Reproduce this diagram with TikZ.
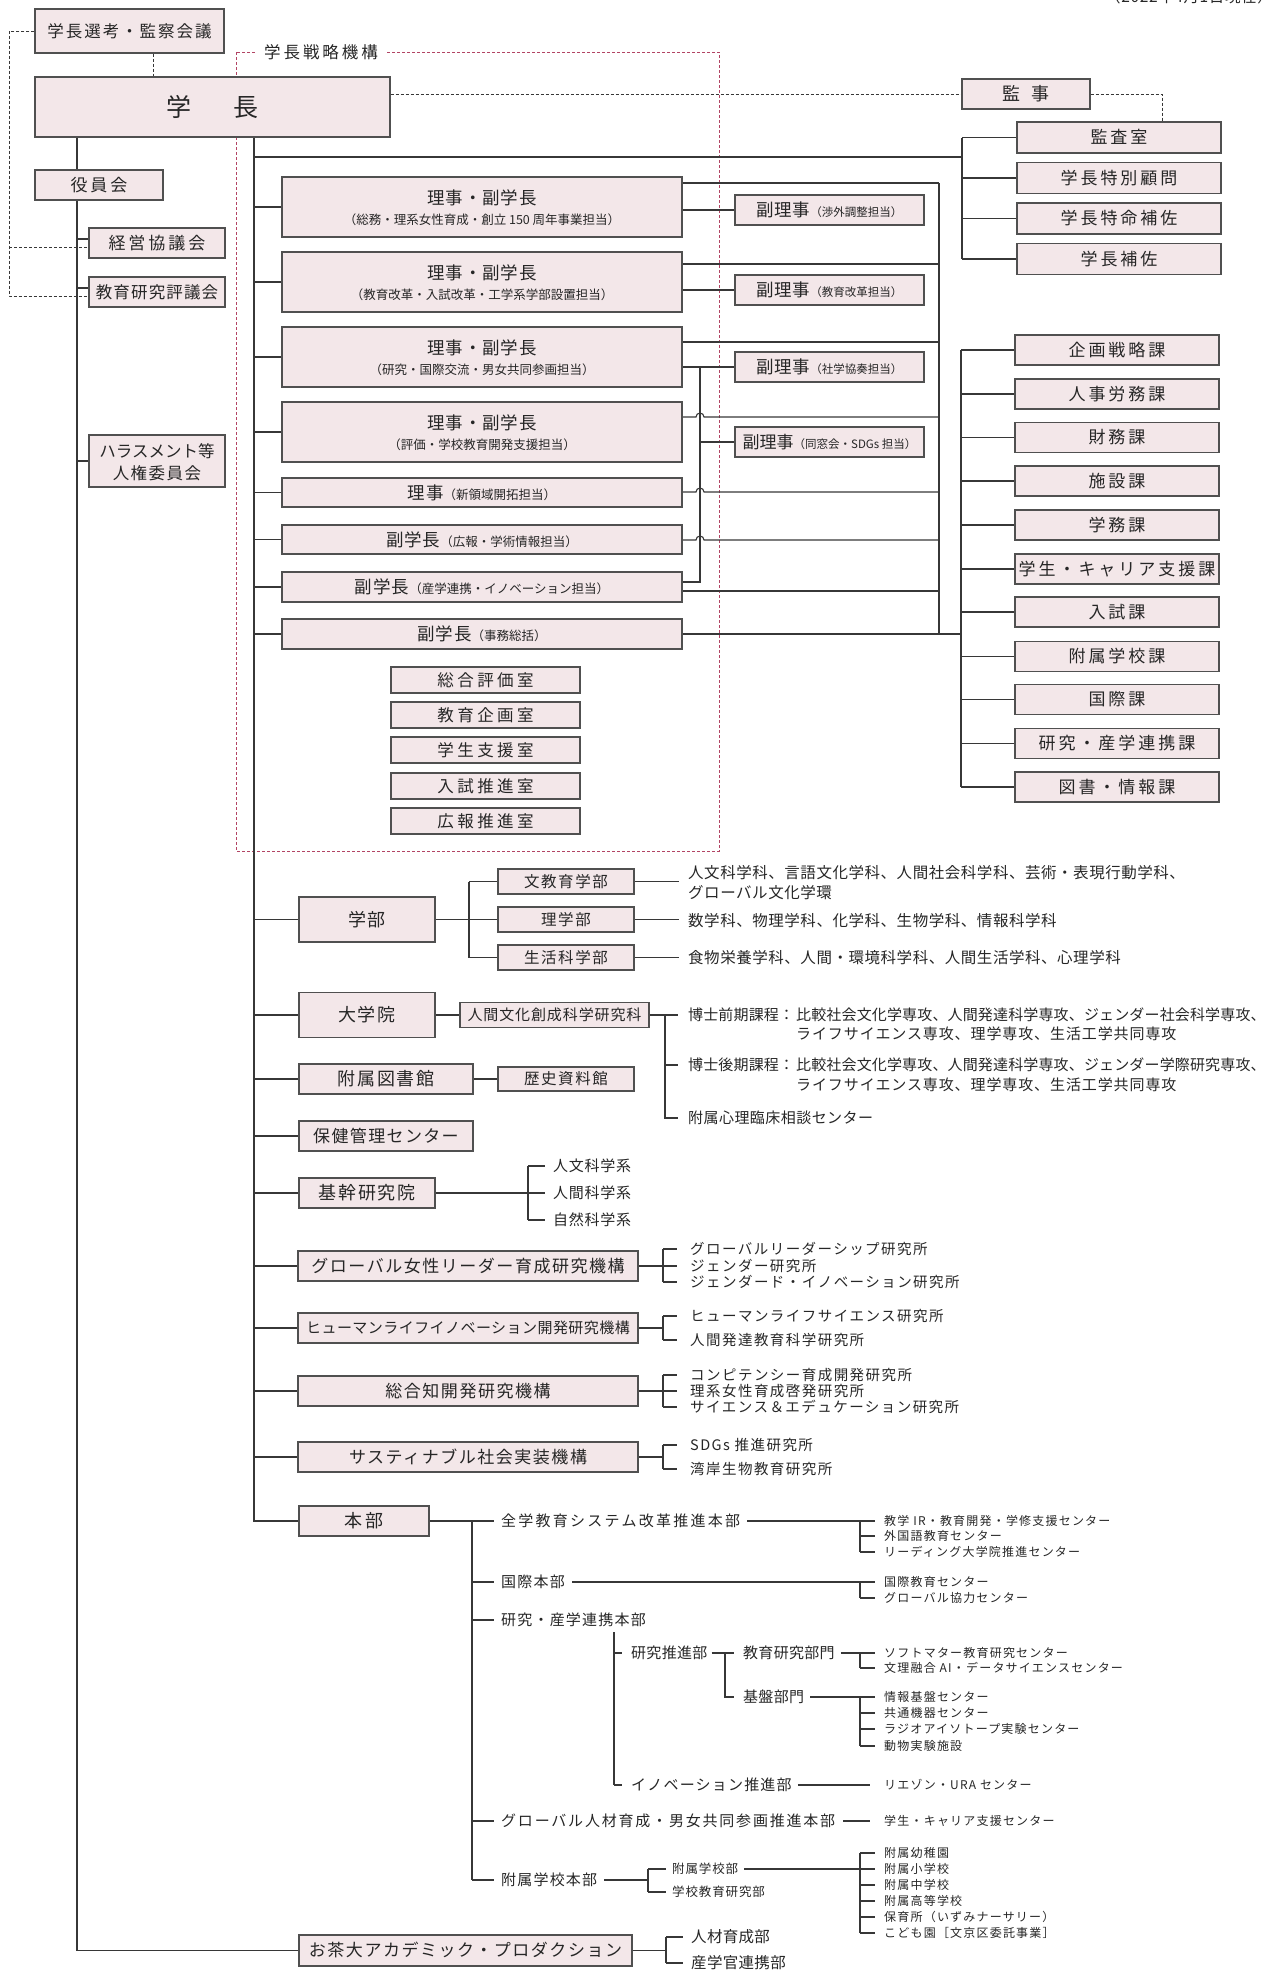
\documentclass[tikz,border=0pt]{standalone}
\usepackage{fontspec}
\setmainfont{Noto Sans CJK JP}
\usetikzlibrary{calc}
\pgfdeclarelayer{bg}
\pgfsetlayers{bg,main}
\definecolor{boxf}{RGB}{243,231,233}
\definecolor{boxd}{RGB}{80,80,80}
\definecolor{lnc}{RGB}{55,55,55}
\definecolor{txc}{RGB}{38,38,38}
\definecolor{redd}{RGB}{178,68,100}
\newcommand\jf[3]{\fontsize{#1pt}{#2pt}\selectfont\addfontfeature{LetterSpace=#3}}
\newcommand\sv{\rule[-.12em]{0pt}{1em}}
\begin{document}
\begin{tikzpicture}[x=1pt,y=-1pt,
  box/.style={draw=boxd,fill=boxf,line width=1.3pt,inner sep=0pt,text=txc,execute at begin node=\sv},
  bx/.style 2 args={box,minimum width=#1,minimum height=#2},
  tx/.style={inner sep=0pt,anchor=west,text=txc,execute at begin node=\sv},
  tc/.style={tx,anchor=center},
  ln/.style={draw=lnc,line width=1.1pt},
  dsh/.style={draw=lnc,line width=1pt,dash pattern=on 3pt off 2pt},
  rdsh/.style={draw=redd,line width=1pt,dash pattern=on 3pt off 2pt}]
\useasboundingbox (0,0) rectangle (1277,1973);
\node[tx,font=\jf{15.5}{18}{4}] (date) at (1105,-3) {（2022年4月1日現在）};

\coordinate (sfTL) at (236,52);
\coordinate (sfBR) at (719,851);
\node[tc,fill=white,inner xsep=9pt,font=\jf{16.5}{20}{18}] (sflab) at (321,52) {学長戦略機構};

% ---- top boxes
\node[bx={189pt}{44pt},font=\jf{16.5}{20}{12}] (senko) at (129.5,31) {学長選考・監察会議};
\node[bx={355pt}{60pt},font=\jf{25}{30}{0}] (gakucho) at (212.5,107) {学\hspace{42pt}長};
\node[bx={128pt}{30pt},font=\jf{18}{22}{0}] (kanji) at (1026,94) {監\hspace{11pt}事};
\node[bx={204pt}{31pt},font=\jf{17}{20}{17.6}] (ks1) at (1119,137.5) {監査室};
\node[bx={204pt}{31pt},font=\jf{17}{20}{17.6}] (ks2) at (1119,178) {学長特別顧問};
\node[bx={204pt}{31pt},font=\jf{17}{20}{17.6}] (ks3) at (1119,218.5) {学長特命補佐};
\node[bx={204pt}{31pt},font=\jf{17}{20}{17.6}] (ks4) at (1119,259) {学長補佐};
\node[bx={128pt}{30pt},font=\jf{17}{20}{17.6}] (yakuin) at (99,185) {役員会};
\node[bx={136pt}{30pt},font=\jf{17}{20}{17.6}] (keiei) at (157,243) {経営協議会};
\node[bx={136pt}{30pt},font=\jf{16.5}{20}{7}] (kyoken) at (157,292) {教育研究評議会};
\node[bx={136pt}{52pt}] (harass) at (157,461) {};
\node[tc,font=\jf{16.5}{20}{0}] (harass1) at (157,451) {ハラスメント等};
\node[tc,font=\jf{16.5}{20}{9}] (harass2) at (157,473) {人権委員会};

% ---- riji boxes
\node[bx={400pt}{60pt}] (b1) at (482,207) {};
\node[tc,font=\jf{17.5}{20}{5.5}] (b1t) at (482,198) {理事・副学長};
\node[tc,font=\jf{12.5}{15}{0}] (b1s) at (482,220) {（総務・理系女性育成・創立 150 周年事業担当）};
\node[bx={400pt}{60pt}] (b2) at (482,282) {};
\node[tc,font=\jf{17.5}{20}{5.5}] (b2t) at (482,273) {理事・副学長};
\node[tc,font=\jf{12.5}{15}{0}] (b2s) at (482,295) {（教育改革・入試改革・工学系学部設置担当）};
\node[bx={400pt}{60pt}] (b3) at (482,357) {};
\node[tc,font=\jf{17.5}{20}{5.5}] (b3t) at (482,348) {理事・副学長};
\node[tc,font=\jf{12.5}{15}{0}] (b3s) at (482,370) {（研究・国際交流・男女共同参画担当）};
\node[bx={400pt}{60pt}] (b4) at (482,432) {};
\node[tc,font=\jf{17.5}{20}{5.5}] (b4t) at (482,423) {理事・副学長};
\node[tc,font=\jf{12.5}{15}{0}] (b4s) at (482,445) {（評価・学校教育開発支援担当）};
\node[bx={400pt}{29pt},font=\jf{17.5}{20}{5.5}] (b5) at (482,492.5) {理事{\jf{12.5}{15}{0}（新領域開拓担当）}};
\node[bx={400pt}{29pt},font=\jf{17.5}{20}{5.5}] (b6) at (482,539.5) {副学長{\jf{12.5}{15}{0}（広報・学術情報担当）}};
\node[bx={400pt}{30pt},font=\jf{17.5}{20}{5.5}] (b7) at (482,587) {副学長{\jf{12.5}{15}{0}（産学連携・イノベーション担当）}};
\node[bx={400pt}{30pt},font=\jf{17.5}{20}{5.5}] (b8) at (482,634) {副学長{\jf{12.5}{15}{0}（事務総括）}};

% ---- fukuriji
\node[bx={189pt}{30pt},font=\jf{17.5}{20}{3}] (f1) at (829.5,210) {副理事{\jf{11.5}{14}{0}（渉外調整担当）}};
\node[bx={189pt}{30pt},font=\jf{17.5}{20}{3}] (f2) at (829.5,290) {副理事{\jf{11.5}{14}{0}（教育改革担当）}};
\node[bx={189pt}{30pt},font=\jf{17.5}{20}{3}] (f3) at (829.5,367) {副理事{\jf{11.5}{14}{0}（社学協奏担当）}};
\node[bx={189pt}{30pt},font=\jf{17}{20}{0}] (f4) at (829.5,442) {副理事{\jf{11.5}{14}{0}（同窓会・SDGs 担当）}};

% ---- ka
\node[bx={204pt}{30pt},font=\jf{17}{20}{17.6}] (ka1) at (1117,350) {企画戦略課};
\node[bx={204pt}{30pt},font=\jf{17}{20}{17.6}] (ka2) at (1117,394) {人事労務課};
\node[bx={204pt}{30pt},font=\jf{17}{20}{17.6}] (ka3) at (1117,437.5) {財務課};
\node[bx={204pt}{30pt},font=\jf{17}{20}{17.6}] (ka4) at (1117,481) {施設課};
\node[bx={204pt}{30pt},font=\jf{17}{20}{17.6}] (ka5) at (1117,525) {学務課};
\node[bx={204pt}{30pt},font=\jf{17}{20}{17.6}] (ka6) at (1117,569) {学生・キャリア支援課};
\node[bx={204pt}{30pt},font=\jf{17}{20}{17.6}] (ka7) at (1117,612) {入試課};
\node[bx={204pt}{30pt},font=\jf{17}{20}{17.6}] (ka8) at (1117,656.5) {附属学校課};
\node[bx={204pt}{30pt},font=\jf{17}{20}{17.6}] (ka9) at (1117,699.5) {国際課};
\node[bx={204pt}{30pt},font=\jf{17}{20}{17.6}] (ka10) at (1117,743.5) {研究・産学連携課};
\node[bx={204pt}{30pt},font=\jf{17}{20}{17.6}] (ka11) at (1117,787) {図書・情報課};

% ---- rooms
\node[bx={189pt}{26pt},font=\jf{16.5}{20}{21}] (rm1) at (485.5,680) {総合評価室};
\node[bx={189pt}{26pt},font=\jf{16.5}{20}{21}] (rm2) at (485.5,715) {教育企画室};
\node[bx={189pt}{26pt},font=\jf{16.5}{20}{21}] (rm3) at (485.5,750) {学生支援室};
\node[bx={189pt}{26pt},font=\jf{16.5}{20}{21}] (rm4) at (485.5,786) {入試推進室};
\node[bx={189pt}{26pt},font=\jf{16.5}{20}{21}] (rm5) at (485.5,821) {広報推進室};

% ---- lower boxes
\node[bx={136pt}{45pt},font=\jf{18}{22}{11}] (gakubu) at (367,919.5) {学部};
\node[bx={136pt}{25pt},font=\jf{15.5}{19}{10}] (fac1) at (566,881.5) {文教育学部};
\node[bx={136pt}{25pt},font=\jf{15.5}{19}{10}] (fac2) at (566,919.5) {理学部};
\node[bx={136pt}{25pt},font=\jf{15.5}{19}{10}] (fac3) at (566,957.5) {生活科学部};
\node[bx={136pt}{45pt},font=\jf{18}{22}{9}] (daigakuin) at (367,1015) {大学院};
\node[bx={189pt}{25pt},font=\jf{15}{19}{6}] (kenkyuka) at (554.5,1015) {人間文化創成科学研究科};
\node[bx={174pt}{30pt},font=\jf{18}{22}{9}] (tosho) at (386,1079) {附属図書館};
\node[bx={136pt}{24pt},font=\jf{15.5}{19}{10}] (rekishi) at (566,1079) {歴史資料館};
\node[bx={174pt}{30pt},font=\jf{17}{20}{8}] (hoken) at (386,1136) {保健管理センター};
\node[bx={136pt}{30pt},font=\jf{18}{22}{9}] (kikan) at (367,1193) {基幹研究院};
\node[bx={340pt}{30pt},font=\jf{17}{20}{9}] (gw) at (468,1266) {グローバル女性リーダー育成研究機構};
\node[bx={340pt}{30pt},font=\jf{15}{18}{3}] (hl) at (468,1328) {ヒューマンライフイノベーション開発研究機構};
\node[bx={340pt}{30pt},font=\jf{17}{20}{9}] (sg) at (468,1391) {総合知開発研究機構};
\node[bx={340pt}{30pt},font=\jf{17}{20}{9}] (st) at (468,1457) {サスティナブル社会実装機構};
\node[bx={130pt}{30pt},font=\jf{18}{22}{12}] (honbu) at (364,1521) {本部};
\node[bx={333pt}{31pt},font=\jf{17}{20}{9}] (ocha) at (465.5,1950.5) {お茶大アカデミック・プロダクション};

% ---- texts: faculties
\node[tx,font=\jf{15.5}{19}{3.5}] (ft1a) at (688,873) {人文科学科、言語文化学科、人間社会科学科、芸術・表現行動学科、};
\node[tx,font=\jf{15.5}{19}{3.5}] (ft1b) at (688,893) {グローバル文化学環};
\node[tx,font=\jf{15.5}{19}{3.5}] (ft2) at (688,920.5) {数学科、物理学科、化学科、生物学科、情報科学科};
\node[tx,font=\jf{15.5}{19}{3.5}] (ft3) at (688,958) {食物栄養学科、人間・環境科学科、人間生活学科、心理学科};
\node[tx,font=\jf{15}{18}{1}] (dt1) at (688,1015) {博士前期課程：};
\node[tx,font=\jf{15}{18}{1}] (dt1a) at (796,1015) {比較社会文化学専攻、人間発達科学専攻、ジェンダー社会科学専攻、};
\node[tx,font=\jf{15}{18}{6}] (dt1b) at (796,1034) {ライフサイエンス専攻、理学専攻、生活工学共同専攻};
\node[tx,font=\jf{15}{18}{1}] (dt2) at (688,1065) {博士後期課程：};
\node[tx,font=\jf{15}{18}{1}] (dt2a) at (796,1065) {比較社会文化学専攻、人間発達科学専攻、ジェンダー学際研究専攻、};
\node[tx,font=\jf{15}{18}{6}] (dt2b) at (796,1085) {ライフサイエンス専攻、理学専攻、生活工学共同専攻};
\node[tx,font=\jf{15}{18}{3}] (dt3) at (688,1118) {附属心理臨床相談センター};
\node[tx,font=\jf{15}{18}{5}] (kt1) at (553,1166) {人文科学系};
\node[tx,font=\jf{15}{18}{5}] (kt2) at (553,1193) {人間科学系};
\node[tx,font=\jf{15}{18}{5}] (kt3) at (553,1220) {自然科学系};
% institutes
\node[tx,font=\jf{14.5}{16}{10}] (gi1) at (690,1249) {グローバルリーダーシップ研究所};
\node[tx,font=\jf{14.5}{16}{10}] (gi2) at (690,1266) {ジェンダー研究所};
\node[tx,font=\jf{14.5}{16}{10}] (gi3) at (690,1282) {ジェンダード・イノベーション研究所};
\node[tx,font=\jf{14.5}{16}{10}] (li1) at (690,1316) {ヒューマンライフサイエンス研究所};
\node[tx,font=\jf{14.5}{16}{10}] (li2) at (690,1340) {人間発達教育科学研究所};
\node[tx,font=\jf{14.5}{16}{10}] (si1) at (690,1375) {コンピテンシー育成開発研究所};
\node[tx,font=\jf{14.5}{16}{10}] (si2) at (690,1391) {理系女性育成啓発研究所};
\node[tx,font=\jf{14.5}{16}{10}] (si3) at (690,1407) {サイエンス＆エデュケーション研究所};
\node[tx,font=\jf{14.5}{16}{10}] (ti1) at (690,1445) {SDGs 推進研究所};
\node[tx,font=\jf{14.5}{16}{10}] (ti2) at (690,1469) {湾岸生物教育研究所};
% honbu
\node[tx,font=\jf{15}{18}{15}] (zt) at (501,1521) {全学教育システム改革推進本部};
\node[tx,font=\jf{15}{18}{8}] (kt) at (501,1582) {国際本部};
\node[tx,font=\jf{15}{18}{8}] (kr) at (501,1620) {研究・産学連携本部};
\node[tx,font=\jf{15}{18}{12}] (gj) at (501,1821) {グローバル人材育成・男女共同参画推進本部};
\node[tx,font=\jf{15}{18}{8}] (fz) at (501,1880) {附属学校本部};
\node[tx,font=\jf{15}{18}{2}] (suishin) at (631,1653) {研究推進部};
\node[tx,font=\jf{15}{18}{2}] (kyb) at (743,1653) {教育研究部門};
\node[tx,font=\jf{15}{18}{2}] (kib) at (743,1697) {基盤部門};
\node[tx,font=\jf{15}{18}{8}] (inov) at (631,1785) {イノベーション推進部};
\node[tx,font=\jf{12.5}{15}{7}] (fb1) at (672,1869) {附属学校部};
\node[tx,font=\jf{12.5}{15}{7}] (fb2) at (672,1892) {学校教育研究部};
\node[tx,font=\jf{12}{14}{10}] (zc1) at (884,1521) {教学 IR・教育開発・学修支援センター};
\node[tx,font=\jf{12}{14}{10}] (zc2) at (884,1536) {外国語教育センター};
\node[tx,font=\jf{12}{14}{10}] (zc3) at (884,1552) {リーディング大学院推進センター};
\node[tx,font=\jf{12}{14}{10}] (kc1) at (884,1582) {国際教育センター};
\node[tx,font=\jf{12}{14}{10}] (kc2) at (884,1598) {グローバル協力センター};
\node[tx,font=\jf{12}{14}{10}] (yc1) at (884,1653) {ソフトマター教育研究センター};
\node[tx,font=\jf{12}{14}{10}] (yc2) at (884,1668) {文理融合 AI・データサイエンスセンター};
\node[tx,font=\jf{12}{14}{10}] (jc1) at (884,1697) {情報基盤センター};
\node[tx,font=\jf{12}{14}{10}] (jc2) at (884,1713) {共通機器センター};
\node[tx,font=\jf{12}{14}{10}] (jc3) at (884,1729) {ラジオアイソトープ実験センター};
\node[tx,font=\jf{12}{14}{10}] (jc4) at (884,1746) {動物実験施設};
\node[tx,font=\jf{12}{14}{10}] (ic) at (884,1785) {リエゾン・URA センター};
\node[tx,font=\jf{12}{14}{10}] (gc) at (884,1821) {学生・キャリア支援センター};
\node[tx,font=\jf{12}{14}{10}] (fc1) at (884,1853) {附属幼稚園};
\node[tx,font=\jf{12}{14}{10}] (fc2) at (884,1869) {附属小学校};
\node[tx,font=\jf{12}{14}{10}] (fc3) at (884,1885) {附属中学校};
\node[tx,font=\jf{12}{14}{10}] (fc4) at (884,1901) {附属高等学校};
\node[tx,font=\jf{12}{14}{10}] (fc5) at (884,1917) {保育所（いずみナーサリー）};
\node[tx,font=\jf{12}{14}{10}] (fc6) at (884,1933) {こども園［文京区委託事業］};
\node[tx,font=\jf{15.5}{18}{2}] (oc1) at (691,1937) {人材育成部};
\node[tx,font=\jf{15.5}{18}{2}] (oc2) at (691,1963) {産学官連携部};

\begin{pgfonlayer}{bg}
\draw[rdsh] (sfTL) rectangle (sfBR);
% dashed black
\coordinate (dBot) at (9,296);
\coordinate (dMid) at (9,247);
\draw[dsh] (senko.west) -| (dBot) -- (dBot -| kyoken.west);
\draw[dsh] (dMid) -- (dMid -| keiei.west);
\coordinate (dS) at (153,0);
\draw[dsh] (senko.south -| dS) -- (gakucho.north -| dS);
\draw[dsh] (kanji.west -| gakucho.east) -- (kanji.west);
\coordinate (dK) at (1162,0);
\draw[dsh] (kanji.east) -| (ks1.north -| dK);
% left spine
\coordinate (Lx) at (77,0);
\draw[ln] (gakucho.south -| Lx) -- (ocha.west -| Lx) -- (ocha.west);
\coordinate (k1) at (77,239);
\coordinate (k2) at (77,288);
\draw[ln] (k1) -- (k1 -| keiei.west);
\draw[ln] (k2) -- (k2 -| kyoken.west);
\draw[ln] (harass.west -| Lx) -- (harass.west);
% main spine
\coordinate (Sx) at (254,0);
\draw[ln] (gakucho.south -| Sx) -- (honbu.west -| Sx) -- (honbu.west);
\foreach \n in {b1,b2,b3,b4,b5,b6,b7,b8,gakubu,daigakuin,tosho,hoken,kikan,gw,hl,sg,st}
  \draw[ln] (\n.west -| Sx) -- (\n.west);
% top line to kansa column
\coordinate (T1) at (254,157);
\coordinate (Kx) at (962,0);
\draw[ln] (T1) -- (T1 -| Kx);
\draw[ln] (ks1.west -| Kx) -- (ks4.west -| Kx);
\foreach \n in {ks1,ks2,ks3,ks4} \draw[ln] (\n.west -| Kx) -- (\n.west);
% right bus
\coordinate (r1) at (939,183);
\coordinate (r2) at (939,264);
\coordinate (r3) at (939,342);
\coordinate (r4) at (939,417);
\coordinate (r5) at (939,492);
\coordinate (r6) at (939,540);
\coordinate (r7) at (939,591);
\coordinate (Cx) at (961,0);
\draw[ln] (r1) -- (b8.east -| r1);
\draw[ln] (r1 -| b1.east) -- (r1);
\draw[ln] (r2 -| b2.east) -- (r2);
\draw[ln] (r3 -| b3.east) -- (r3);
\draw[ln] (r7 -| b7.east) -- (r7);
\draw[ln] (b8.east) -- (b8.east -| Cx);
\coordinate (h4) at (696,417);
\coordinate (h5) at (696,492);
\coordinate (h6) at (696,540);
\draw[ln] (r4 -| b4.east) -- (h4) arc[start angle=180,end angle=0,radius=4pt] -- (r4);
\draw[ln] (r5 -| b5.east) -- (h5) arc[start angle=180,end angle=0,radius=4pt] -- (r5);
\draw[ln] (r6 -| b6.east) -- (h6) arc[start angle=180,end angle=0,radius=4pt] -- (r6);
% fukuriji
\draw[ln] (f1.west -| b1.east) -- (f1.west);
\draw[ln] (f2.west -| b2.east) -- (f2.west);
\draw[ln] (f3.west -| b3.east) -- (f3.west);
\coordinate (Hx) at (700,0);
\coordinate (h7) at (700,582);
\draw[ln] (f3.west -| Hx) -- (h7) -- (h7 -| b7.east);
\draw[ln] (f4.west -| Hx) -- (f4.west);
% ka bus
\draw[ln] (ka1.west -| Cx) -- (ka11.west -| Cx);
\foreach \n in {ka1,ka2,ka3,ka4,ka5,ka6,ka7,ka8,ka9,ka10,ka11} \draw[ln] (\n.west -| Cx) -- (\n.west);
% gakubu
\coordinate (Gx) at (469,0);
\draw[ln] (gakubu.east) -- (gakubu.east -| Gx);
\draw[ln] (fac1.west -| Gx) -- (fac3.west -| Gx);
\coordinate (FTx) at (679,0);
\foreach \n in {fac1,fac2,fac3} {\draw[ln] (\n.west -| Gx) -- (\n.west); \draw[ln] (\n.east) -- (\n.east -| FTx);}
% daigakuin
\draw[ln] (daigakuin.east) -- (kenkyuka.west);
\coordinate (Dx) at (665,0);
\coordinate (De) at (678,0);
\coordinate (d2) at (665,1065);
\coordinate (d3) at (665,1118);
\draw[ln] (kenkyuka.east) -- (kenkyuka.east -| De);
\draw[ln] (kenkyuka.east -| Dx) -- (d3) -- (d3 -| De);
\draw[ln] (d2) -- (d2 -| De);
% tosho
\draw[ln] (tosho.east) -- (rekishi.west);
% kikan
\coordinate (KKx) at (528,0);
\coordinate (KKe) at (545,0);
\draw[ln] (kikan.east) -- (kikan.east -| KKx);
\draw[ln] (kt1.west -| KKx) -- (kt3.west -| KKx);
\foreach \n in {kt1,kt2,kt3} \draw[ln] (\n.west -| KKx) -- (\n.west -| KKe);
% institutes
\coordinate (Ix) at (663,0);
\coordinate (Ie) at (677,0);
\foreach \b/\p/\q in {gw/gi1/gi3,hl/li1/li2,sg/si1/si3,st/ti1/ti2} {
  \draw[ln] (\b.east) -- (\b.east -| Ix);
  \draw[ln] (\p.west -| Ix) -- (\q.west -| Ix);}
\foreach \n in {gi1,gi2,gi3,li1,li2,si1,si2,si3,ti1,ti2} \draw[ln] (\n.west -| Ix) -- (\n.west -| Ie);
% honbu
\coordinate (Hb) at (472,0);
\coordinate (Hbe) at (494,0);
\draw[ln] (honbu.east) -- (honbu.east -| Hb) -- (fz.west -| Hb);
\foreach \n in {zt,kt,kr,gj,fz} \draw[ln] (\n.west -| Hb) -- (\n.west -| Hbe);
\coordinate (Cx2) at (860,0);
\coordinate (Ce) at (875,0);
\coordinate (Ce2) at (870,0);
\draw[ln] ([xshift=7pt]zt.east) -- (zt.east -| Cx2);
\draw[ln] (zc1.west -| Cx2) -- (zc3.west -| Cx2);
\draw[ln] ([xshift=7pt]kt.east) -- (kt.east -| Cx2);
\draw[ln] (kc1.west -| Cx2) -- (kc2.west -| Cx2);
\coordinate (Kr0) at (614,1632);
\draw[ln] (Kr0) -- (inov.west -| Kr0);
\draw[ln] (suishin.west -| Kr0) -- ([xshift=-9pt]suishin.west);
\draw[ln] (inov.west -| Kr0) -- ([xshift=-9pt]inov.west);
\coordinate (Sv) at (725,0);
\draw[ln] ([xshift=4pt]suishin.east) -- ([xshift=-9pt]kyb.west);
\draw[ln] (kyb.west -| Sv) -- (kib.west -| Sv) -- ([xshift=-9pt]kib.west);
\draw[ln] ([xshift=6pt]kyb.east) -- (kyb.east -| Cx2);
\draw[ln] (yc1.west -| Cx2) -- (yc2.west -| Cx2);
\draw[ln] ([xshift=6pt]kib.east) -- (kib.east -| Cx2);
\draw[ln] (jc1.west -| Cx2) -- (jc4.west -| Cx2);
\draw[ln] ([xshift=6pt]inov.east) -- (inov.east -| Ce2);
\draw[ln] ([xshift=8pt]gj.east) -- (gj.east -| Ce2);
\coordinate (Fx) at (648,0);
\coordinate (Fe) at (666,0);
\draw[ln] ([xshift=7pt]fz.east) -- (fz.east -| Fx);
\draw[ln] (fb1.west -| Fx) -- (fb2.west -| Fx);
\foreach \n in {fb1,fb2} \draw[ln] (\n.west -| Fx) -- (\n.west -| Fe);
\draw[ln] ([xshift=6pt]fb1.east) -- (fb1.east -| Cx2);
\draw[ln] (fc1.west -| Cx2) -- (fc6.west -| Cx2);
\foreach \n in {zc1,zc2,zc3,kc1,kc2,yc1,yc2,jc1,jc2,jc3,jc4,fc1,fc2,fc3,fc4,fc5,fc6} \draw[ln] (\n.west -| Cx2) -- (\n.west -| Ce);
% ocha
\coordinate (Ox) at (666,0);
\coordinate (Oe) at (683,0);
\draw[ln] (ocha.east) -- (ocha.east -| Ox);
\draw[ln] (oc1.west -| Ox) -- (oc2.west -| Ox);
\foreach \n in {oc1,oc2} \draw[ln] (\n.west -| Ox) -- (\n.west -| Oe);
\end{pgfonlayer}
\end{tikzpicture}
\end{document}
